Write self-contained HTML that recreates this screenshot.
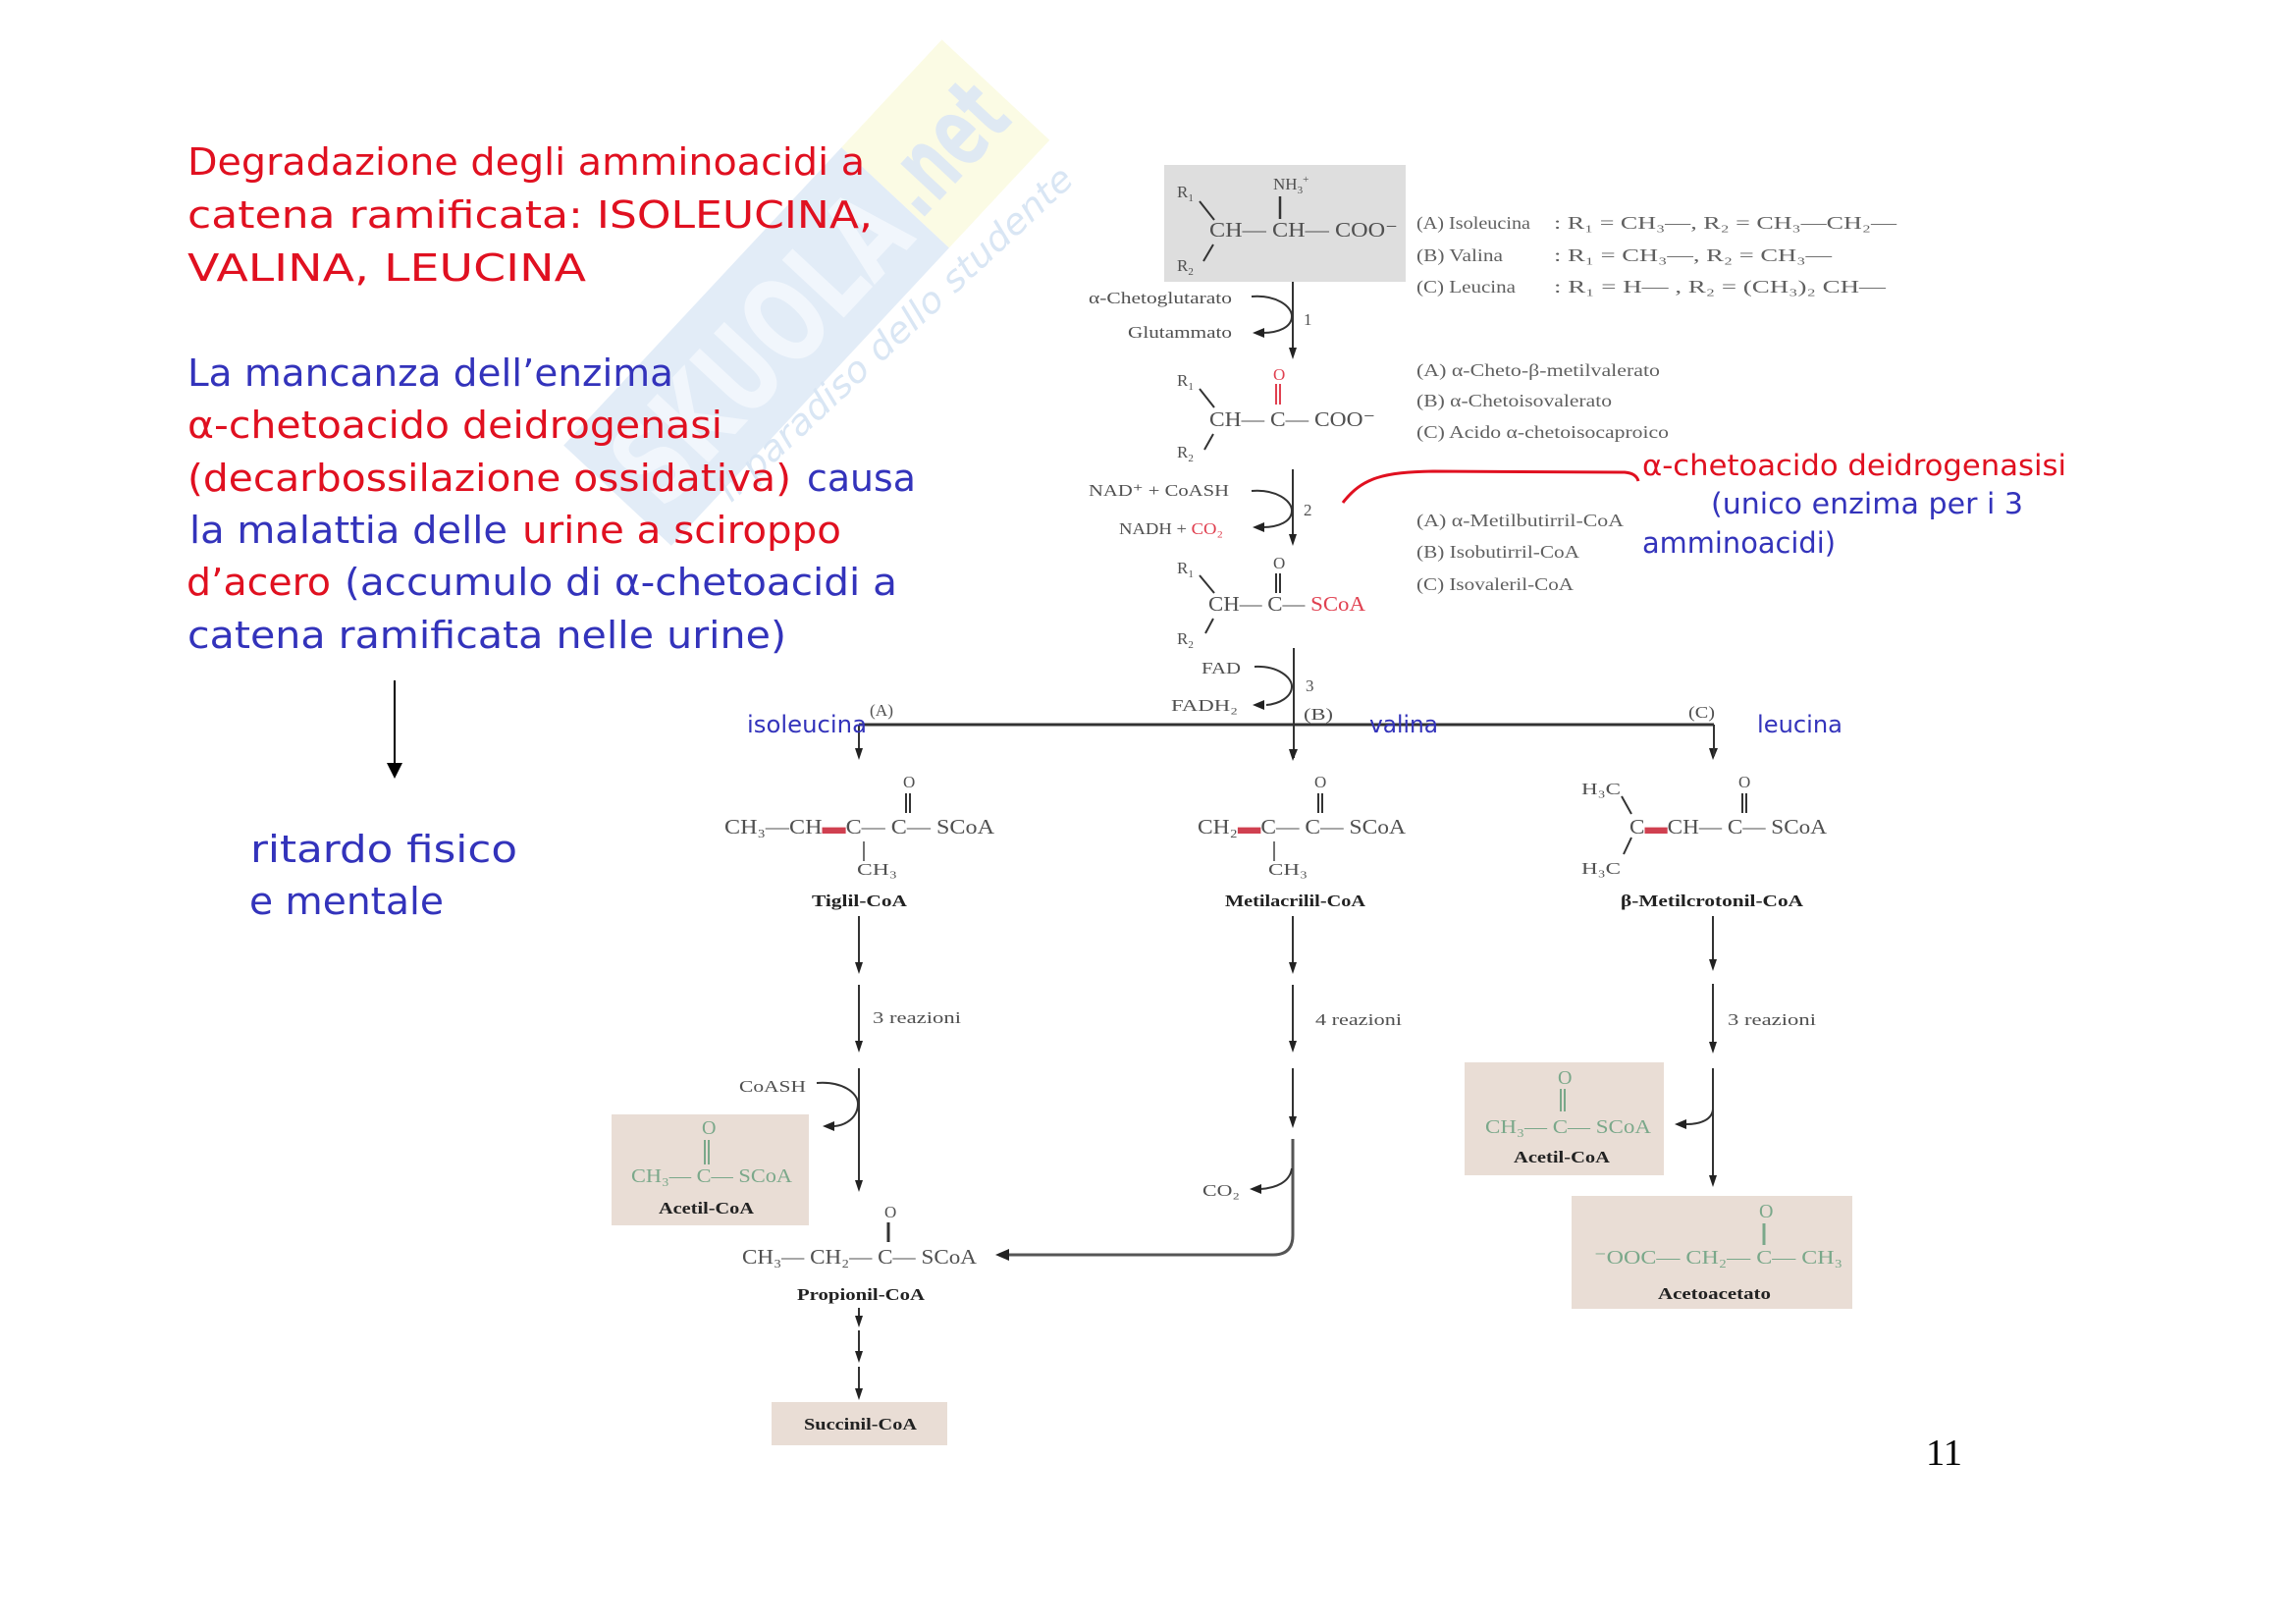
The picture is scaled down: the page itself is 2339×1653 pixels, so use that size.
<!DOCTYPE html>
<html><head><meta charset="utf-8"><style>
html,body{margin:0;padding:0;background:#fff;}
svg{display:block;}
.L{font-family:"DejaVu Sans",sans-serif;font-size:38px;}
.S{font-family:"DejaVu Sans",sans-serif;font-size:29px;}
.T{font-family:"DejaVu Sans",sans-serif;font-size:24px;fill:#3333bb;}
.r{fill:#e01020;}
.b{fill:#3333bb;}
.c{font-family:"Liberation Serif",serif;font-size:21px;fill:#505050;}
.lab{font-family:"Liberation Serif",serif;font-size:18px;fill:#606060;}
.sm{font-family:"Liberation Serif",serif;font-size:17px;fill:#505050;}
.bd{font-family:"Liberation Serif",serif;font-size:17px;font-weight:bold;fill:#222;}
.g{font-family:"Liberation Serif",serif;font-size:20px;fill:#7aa88a;}
.ln{stroke:#333;stroke-width:2;fill:none;}
.ah{fill:#222;}
</style></head><body>
<svg width="2339" height="1653" viewBox="0 0 2339 1653" xmlns="http://www.w3.org/2000/svg">
<rect x="0" y="0" width="2339" height="1653" fill="#fff"/>

<!-- watermark -->
<g transform="rotate(-47 820 300)">
  <rect x="540" y="225" width="415" height="150" fill="#e2ecf7"/>
  <rect x="955" y="225" width="150" height="150" fill="#fbfbe4"/>
  <text x="560" y="345" font-family="DejaVu Sans,sans-serif" font-weight="bold" font-size="118" fill="#f1f6fc" textLength="380" lengthAdjust="spacingAndGlyphs">SKUOLA</text>
  <text x="955" y="335" font-family="DejaVu Sans,sans-serif" font-weight="bold" font-size="100" fill="#dfe9f3" textLength="140" lengthAdjust="spacingAndGlyphs">.net</text>
</g>
<text x="912" y="352" text-anchor="middle" font-family="DejaVu Sans,sans-serif" font-style="italic" font-size="36" fill="#d9e6f4" transform="rotate(-43 912 340)" textLength="480" lengthAdjust="spacingAndGlyphs">il paradiso dello studente</text>

<!-- left text -->
<text x="191" y="178" class="L r" textLength="690" lengthAdjust="spacingAndGlyphs">Degradazione degli amminoacidi a</text>
<text x="191" y="232" class="L r" textLength="698" lengthAdjust="spacingAndGlyphs">catena ramificata: ISOLEUCINA,</text>
<text x="191" y="286" class="L r" textLength="406" lengthAdjust="spacingAndGlyphs">VALINA, LEUCINA</text>
<text x="191" y="393" class="L b" textLength="495" lengthAdjust="spacingAndGlyphs">La mancanza dell’enzima</text>
<text x="191" y="446" class="L r" textLength="545" lengthAdjust="spacingAndGlyphs">α-chetoacido deidrogenasi</text>
<text x="191" y="500" class="L r" textLength="615" lengthAdjust="spacingAndGlyphs">(decarbossilazione ossidativa)</text>
<text x="822" y="500" class="L b" textLength="111" lengthAdjust="spacingAndGlyphs">causa</text>
<text x="193" y="553" class="L b" textLength="324" lengthAdjust="spacingAndGlyphs">la malattia delle</text>
<text x="532" y="553" class="L r" textLength="325" lengthAdjust="spacingAndGlyphs">urine a sciroppo</text>
<text x="190" y="606" class="L r" textLength="147" lengthAdjust="spacingAndGlyphs">d’acero</text>
<text x="351" y="606" class="L b" textLength="563" lengthAdjust="spacingAndGlyphs">(accumulo di α-chetoacidi a</text>
<text x="191" y="660" class="L b" textLength="610" lengthAdjust="spacingAndGlyphs">catena ramificata nelle urine)</text>

<line x1="402" y1="693" x2="402" y2="780" stroke="#000" stroke-width="2"/>
<polygon points="394,777 410,777 402,793" fill="#000"/>
<text x="255" y="878" class="L b" textLength="272" lengthAdjust="spacingAndGlyphs">ritardo fisico</text>
<text x="254" y="931" class="L b" textLength="198" lengthAdjust="spacingAndGlyphs">e mentale</text>

<!-- top structure -->
<rect x="1186" y="168" width="246" height="119" fill="#dedede"/>
<text x="1199" y="201" class="sm">R<tspan font-size="11" dy="4">1</tspan></text>
<line x1="1222" y1="205" x2="1237" y2="224" class="ln"/>
<text x="1297" y="193" class="sm">NH<tspan font-size="11" dy="4">3</tspan><tspan font-size="11" dy="-11">+</tspan></text>
<line x1="1304" y1="200" x2="1304" y2="223" stroke="#333" stroke-width="2.5"/>
<text x="1232" y="241" class="c" textLength="192" lengthAdjust="spacingAndGlyphs">CH— CH— COO⁻</text>
<line x1="1236" y1="249" x2="1226" y2="266" class="ln"/>
<text x="1199" y="276" class="sm">R<tspan font-size="11" dy="4">2</tspan></text>

<text x="1443" y="233" class="lab" textLength="116" lengthAdjust="spacingAndGlyphs">(A) Isoleucina</text>
<text x="1583" y="233" class="lab" textLength="349" lengthAdjust="spacingAndGlyphs">: R₁ = CH₃—, R₂ = CH₃—CH₂—</text>
<text x="1443" y="266" class="lab" textLength="88" lengthAdjust="spacingAndGlyphs">(B) Valina</text>
<text x="1583" y="266" class="lab" textLength="283" lengthAdjust="spacingAndGlyphs">: R₁ = CH₃—, R₂ = CH₃—</text>
<text x="1443" y="298" class="lab" textLength="101" lengthAdjust="spacingAndGlyphs">(C) Leucina</text>
<text x="1583" y="298" class="lab" textLength="338" lengthAdjust="spacingAndGlyphs">: R₁ = H—    , R₂ = (CH₃)₂ CH—</text>

<!-- step 1 -->
<line x1="1317" y1="287" x2="1317" y2="362" class="ln"/>
<polygon points="1313,354 1321,354 1317,366" class="ah"/>
<text x="1109" y="309" class="sm" textLength="146" lengthAdjust="spacingAndGlyphs">α-Chetoglutarato</text>
<text x="1149" y="344" class="sm" textLength="106" lengthAdjust="spacingAndGlyphs">Glutammato</text>
<path d="M1275,302 C1300,300 1316,312 1316,322 C1316,333 1303,339 1286,339" class="ln"/>
<polygon points="1276,339 1288,334 1288,344" class="ah"/>
<text x="1328" y="331" class="sm">1</text>

<!-- structure 2 -->
<text x="1199" y="393" class="sm">R<tspan font-size="11" dy="4">1</tspan></text>
<line x1="1222" y1="396" x2="1237" y2="415" class="ln"/>
<text x="1297" y="387" class="sm" style="fill:#e04050">O</text>
<line x1="1300" y1="391" x2="1300" y2="412" stroke="#e04050" stroke-width="2"/>
<line x1="1304" y1="391" x2="1304" y2="412" stroke="#e04050" stroke-width="2"/>
<text x="1232" y="434" class="c" textLength="169" lengthAdjust="spacingAndGlyphs">CH— C— COO⁻</text>
<line x1="1236" y1="442" x2="1227" y2="458" class="ln"/>
<text x="1199" y="466" class="sm">R<tspan font-size="11" dy="4">2</tspan></text>

<text x="1443" y="383" class="lab" textLength="248" lengthAdjust="spacingAndGlyphs">(A)  α-Cheto-β-metilvalerato</text>
<text x="1443" y="414" class="lab" textLength="199" lengthAdjust="spacingAndGlyphs">(B)  α-Chetoisovalerato</text>
<text x="1443" y="446" class="lab" textLength="257" lengthAdjust="spacingAndGlyphs">(C)  Acido α-chetoisocaproico</text>

<!-- step 2 -->
<line x1="1317" y1="478" x2="1317" y2="552" class="ln"/>
<polygon points="1313,544 1321,544 1317,556" class="ah"/>
<text x="1109" y="505" class="sm" textLength="143" lengthAdjust="spacingAndGlyphs">NAD⁺ + CoASH</text>
<text x="1140" y="544" class="sm" textLength="106" lengthAdjust="spacingAndGlyphs">NADH + <tspan style="fill:#e04050">CO₂</tspan></text>
<path d="M1275,500 C1300,498 1316,510 1316,520 C1316,531 1303,537 1286,537" class="ln"/>
<polygon points="1276,537 1288,532 1288,542" class="ah"/>
<text x="1328" y="525" class="sm">2</text>

<!-- red annotation -->
<path d="M1368,512 C1388,486 1410,481 1460,480 L1655,481 Q1667,482 1669,490" stroke="#e01020" stroke-width="3" fill="none"/>
<text x="1673" y="484" class="S r" textLength="432" lengthAdjust="spacingAndGlyphs">α-chetoacido deidrogenasisi</text>
<text x="1743" y="523" class="S b" textLength="318" lengthAdjust="spacingAndGlyphs">(unico enzima per i 3</text>
<text x="1673" y="563" class="S b" textLength="197" lengthAdjust="spacingAndGlyphs">amminoacidi)</text>

<text x="1443" y="536" class="lab" textLength="211" lengthAdjust="spacingAndGlyphs">(A)  α-Metilbutirril-CoA</text>
<text x="1443" y="568" class="lab" textLength="166" lengthAdjust="spacingAndGlyphs">(B)  Isobutirril-CoA</text>
<text x="1443" y="601" class="lab" textLength="160" lengthAdjust="spacingAndGlyphs">(C)  Isovaleril-CoA</text>

<!-- structure 3 -->
<text x="1199" y="584" class="sm">R<tspan font-size="11" dy="4">1</tspan></text>
<line x1="1222" y1="586" x2="1237" y2="604" class="ln"/>
<text x="1297" y="579" class="sm">O</text>
<line x1="1300" y1="584" x2="1300" y2="604" stroke="#333" stroke-width="2"/>
<line x1="1304" y1="584" x2="1304" y2="604" stroke="#333" stroke-width="2"/>
<text x="1231" y="622" class="c" textLength="160" lengthAdjust="spacingAndGlyphs">CH— C— <tspan style="fill:#e04050">SCoA</tspan></text>
<line x1="1236" y1="630" x2="1228" y2="645" class="ln"/>
<text x="1199" y="656" class="sm">R<tspan font-size="11" dy="4">2</tspan></text>

<!-- step 3 -->
<line x1="1318" y1="660" x2="1318" y2="772" class="ln"/>
<polygon points="1313,763 1322,763 1317,775" class="ah"/>
<text x="1224" y="686" class="sm" textLength="40" lengthAdjust="spacingAndGlyphs">FAD</text>
<text x="1193" y="724" class="sm" textLength="68" lengthAdjust="spacingAndGlyphs">FADH₂</text>
<path d="M1278,679 C1302,678 1316,690 1316,699 C1316,710 1303,717 1290,718" class="ln"/>
<polygon points="1276,718 1288,713 1288,723" class="ah"/>
<text x="1330" y="704" class="sm">3</text>
<text x="1328" y="733" class="sm" textLength="30" lengthAdjust="spacingAndGlyphs">(B)</text>
<text x="886" y="729" class="sm" textLength="24" lengthAdjust="spacingAndGlyphs">(A)</text>
<text x="1720" y="731" class="sm" textLength="27" lengthAdjust="spacingAndGlyphs">(C)</text>

<line x1="875" y1="738" x2="1746" y2="738" stroke="#333" stroke-width="3"/>
<line x1="875" y1="738" x2="875" y2="770" class="ln"/>
<polygon points="871,762 879,762 875,774" class="ah"/>
<polygon points="1741,762 1750,762 1745,774" class="ah"/>
<line x1="1746" y1="738" x2="1746" y2="770" class="ln"/>

<text x="761" y="746" class="T" textLength="122" lengthAdjust="spacingAndGlyphs">isoleucina</text>
<text x="1395" y="746" class="T" textLength="70" lengthAdjust="spacingAndGlyphs">valina</text>
<text x="1790" y="746" class="T" textLength="87" lengthAdjust="spacingAndGlyphs">leucina</text>

<!-- Tiglil-CoA -->
<text x="920" y="802" class="sm">O</text>
<line x1="923" y1="808" x2="923" y2="828" stroke="#333" stroke-width="2"/>
<line x1="927" y1="808" x2="927" y2="828" stroke="#333" stroke-width="2"/>
<text x="738" y="849" class="c" textLength="275" lengthAdjust="spacingAndGlyphs">CH₃—CH<tspan style="fill:#d04050">▬</tspan>C— C— SCoA</text>
<line x1="880" y1="857" x2="880" y2="877" stroke="#444" stroke-width="1.5"/>
<text x="873" y="891" class="sm" textLength="41" lengthAdjust="spacingAndGlyphs">CH₃</text>
<text x="827" y="923" class="bd" textLength="97" lengthAdjust="spacingAndGlyphs">Tiglil-CoA</text>

<!-- Metilacrilil-CoA -->
<text x="1339" y="802" class="sm">O</text>
<line x1="1343" y1="808" x2="1343" y2="828" stroke="#333" stroke-width="2"/>
<line x1="1347" y1="808" x2="1347" y2="828" stroke="#333" stroke-width="2"/>
<text x="1220" y="849" class="c" textLength="212" lengthAdjust="spacingAndGlyphs">CH₂<tspan style="fill:#d04050">▬</tspan>C— C— SCoA</text>
<line x1="1298" y1="857" x2="1298" y2="877" stroke="#444" stroke-width="1.5"/>
<text x="1292" y="891" class="sm" textLength="40" lengthAdjust="spacingAndGlyphs">CH₃</text>
<text x="1248" y="923" class="bd" textLength="143" lengthAdjust="spacingAndGlyphs">Metilacrilil-CoA</text>

<!-- beta-Metilcrotonil-CoA -->
<text x="1611" y="809" class="sm" textLength="40" lengthAdjust="spacingAndGlyphs">H₃C</text>
<text x="1771" y="802" class="sm">O</text>
<line x1="1775" y1="808" x2="1775" y2="828" stroke="#333" stroke-width="2"/>
<line x1="1779" y1="808" x2="1779" y2="828" stroke="#333" stroke-width="2"/>
<line x1="1652" y1="811" x2="1662" y2="829" class="ln"/>
<text x="1660" y="849" class="c" textLength="201" lengthAdjust="spacingAndGlyphs">C<tspan style="fill:#d04050">▬</tspan>CH— C— SCoA</text>
<line x1="1662" y1="853" x2="1654" y2="870" class="ln"/>
<text x="1611" y="890" class="sm" textLength="40" lengthAdjust="spacingAndGlyphs">H₃C</text>
<text x="1651" y="923" class="bd" textLength="186" lengthAdjust="spacingAndGlyphs">β-Metilcrotonil-CoA</text>

<!-- column A lower -->
<line x1="875" y1="933" x2="875" y2="988" class="ln"/>
<polygon points="871,980 879,980 875,992" class="ah"/>
<line x1="875" y1="1003" x2="875" y2="1068" class="ln"/>
<polygon points="871,1060 879,1060 875,1072" class="ah"/>
<text x="889" y="1042" class="sm" textLength="90" lengthAdjust="spacingAndGlyphs">3 reazioni</text>
<line x1="875" y1="1088" x2="875" y2="1210" class="ln"/>
<polygon points="871,1202 879,1202 875,1214" class="ah"/>
<text x="753" y="1112" class="sm" textLength="68" lengthAdjust="spacingAndGlyphs">CoASH</text>
<path d="M832,1103 C858,1101 874,1113 874,1124 C874,1138 862,1146 850,1147" class="ln"/>
<polygon points="838,1147 850,1142 850,1152" class="ah"/>

<rect x="623" y="1135" width="201" height="113" fill="#e9ddd5"/>
<text x="715" y="1155" class="g" font-size="16">O</text>
<line x1="718" y1="1161" x2="718" y2="1186" stroke="#7aa88a" stroke-width="2"/>
<line x1="722" y1="1161" x2="722" y2="1186" stroke="#7aa88a" stroke-width="2"/>
<text x="643" y="1204" class="g" textLength="164" lengthAdjust="spacingAndGlyphs">CH₃— C— SCoA</text>
<text x="671" y="1236" class="bd" textLength="97" lengthAdjust="spacingAndGlyphs">Acetil-CoA</text>

<!-- Propionil-CoA -->
<text x="901" y="1240" class="sm">O</text>
<line x1="905" y1="1245" x2="905" y2="1265" stroke="#333" stroke-width="3"/>
<text x="756" y="1287" class="c" textLength="239" lengthAdjust="spacingAndGlyphs">CH₃— CH₂— C— SCoA</text>
<text x="812" y="1324" class="bd" textLength="130" lengthAdjust="spacingAndGlyphs">Propionil-CoA</text>

<line x1="875" y1="1332" x2="875" y2="1346" class="ln"/>
<polygon points="871,1340 879,1340 875,1352" class="ah"/>
<line x1="875" y1="1355" x2="875" y2="1382" class="ln"/>
<polygon points="871,1376 879,1376 875,1388" class="ah"/>
<line x1="875" y1="1392" x2="875" y2="1420" class="ln"/>
<polygon points="871,1414 879,1414 875,1426" class="ah"/>
<rect x="786" y="1428" width="179" height="44" fill="#e9ddd5"/>
<text x="819" y="1456" class="bd" textLength="115" lengthAdjust="spacingAndGlyphs">Succinil-CoA</text>

<!-- column B lower -->
<line x1="1317" y1="933" x2="1317" y2="988" class="ln"/>
<polygon points="1313,980 1321,980 1317,992" class="ah"/>
<line x1="1317" y1="1003" x2="1317" y2="1068" class="ln"/>
<polygon points="1313,1060 1321,1060 1317,1072" class="ah"/>
<text x="1340" y="1044" class="sm" textLength="88" lengthAdjust="spacingAndGlyphs">4 reazioni</text>
<line x1="1317" y1="1088" x2="1317" y2="1145" class="ln"/>
<polygon points="1313,1137 1321,1137 1317,1149" class="ah"/>
<path d="M1317,1160 L1317,1258 Q1317,1278 1297,1278 L1026,1278" stroke="#555" stroke-width="3" fill="none"/>
<polygon points="1014,1278 1028,1272 1028,1284" class="ah"/>
<path d="M1316,1190 C1314,1204 1300,1210 1284,1211" class="ln"/>
<polygon points="1273,1211 1285,1206 1285,1216" class="ah"/>
<text x="1225" y="1218" class="sm" textLength="38" lengthAdjust="spacingAndGlyphs">CO₂</text>

<!-- column C lower -->
<line x1="1745" y1="933" x2="1745" y2="985" class="ln"/>
<polygon points="1741,977 1749,977 1745,989" class="ah"/>
<line x1="1745" y1="1002" x2="1745" y2="1069" class="ln"/>
<polygon points="1741,1061 1749,1061 1745,1073" class="ah"/>
<text x="1760" y="1044" class="sm" textLength="90" lengthAdjust="spacingAndGlyphs">3 reazioni</text>
<line x1="1745" y1="1088" x2="1745" y2="1205" class="ln"/>
<polygon points="1741,1197 1749,1197 1745,1209" class="ah"/>
<path d="M1745,1130 C1744,1140 1733,1145 1718,1145" class="ln"/>
<polygon points="1706,1145 1718,1140 1718,1150" class="ah"/>

<rect x="1492" y="1082" width="203" height="115" fill="#e9ddd5"/>
<text x="1587" y="1104" class="g" font-size="16">O</text>
<line x1="1590" y1="1109" x2="1590" y2="1132" stroke="#7aa88a" stroke-width="2"/>
<line x1="1594" y1="1109" x2="1594" y2="1132" stroke="#7aa88a" stroke-width="2"/>
<text x="1513" y="1154" class="g" textLength="169" lengthAdjust="spacingAndGlyphs">CH₃— C— SCoA</text>
<text x="1542" y="1184" class="bd" textLength="98" lengthAdjust="spacingAndGlyphs">Acetil-CoA</text>

<rect x="1601" y="1218" width="286" height="115" fill="#e9ddd5"/>
<text x="1792" y="1240" class="g" font-size="16">O</text>
<line x1="1797" y1="1246" x2="1797" y2="1268" stroke="#7aa88a" stroke-width="3"/>
<text x="1624" y="1287" class="g" textLength="253" lengthAdjust="spacingAndGlyphs">⁻OOC— CH₂— C— CH₃</text>
<text x="1689" y="1323" class="bd" textLength="115" lengthAdjust="spacingAndGlyphs">Acetoacetato</text>

<!-- page number -->
<text x="1962" y="1492" font-family="Liberation Serif,serif" font-size="38" fill="#000" textLength="37" lengthAdjust="spacingAndGlyphs">11</text>
</svg>
</body></html>
